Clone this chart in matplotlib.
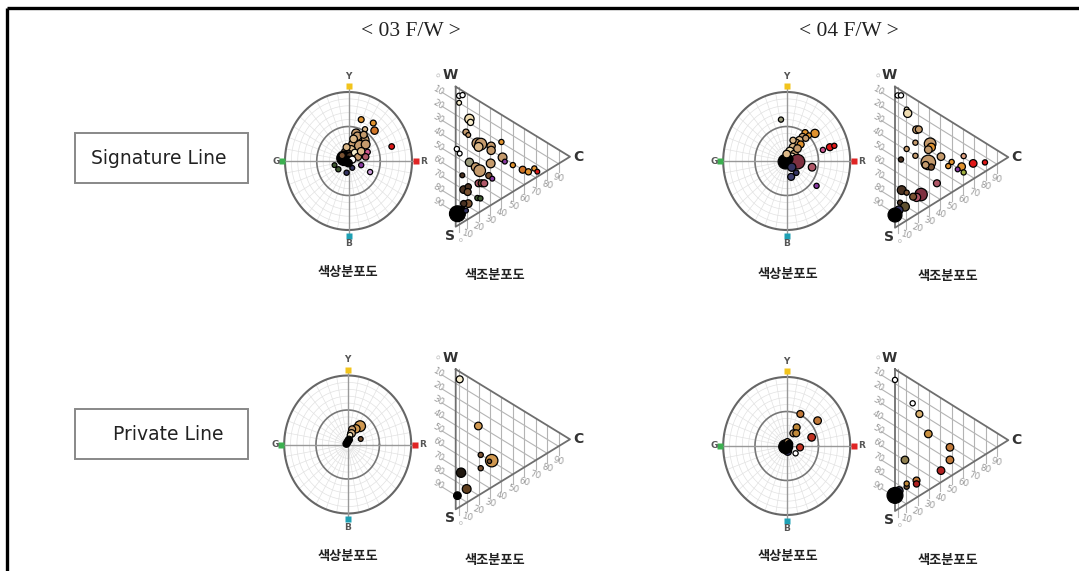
import numpy as np
import matplotlib
matplotlib.use("Agg")
import matplotlib.pyplot as plt
from matplotlib.patches import Rectangle

# ---------------- data ----------------
titles = ["< 03 F/W >", "< 04 F/W >"]
row_labels = ["Signature Line", "Private Line"]
hue_caption = "색상분포도"
tone_caption = "색조분포도"
hue_axes = ["Y", "G", "R", "B"]
tone_vertices = ["W", "S", "C"]
tone_ticks = [10, 20, 30, 40, 50, 60, 70, 80, 90]

# colour names
wh, lt, cream, ltan, tan = "#ffffff", "#f6eccc", "#eedbb0", "#dcb888", "#c49a6c"
org, dor, brn, dbr, blk = "#e0922e", "#d07426", "#7a5232", "#4a3222", "#000000"
red, mau, pur, nav, grn = "#e01818", "#b05868", "#8a3aa0", "#343462", "#3e5a30"
lav, pink, olv, mar, gtan = "#c898d8", "#d05890", "#9a9a7c", "#7e3040", "#d09850"

# 03 F/W Signature - hue (a, b), size, colour
sig03_hue_a = [20, 39, 41, 26, 12, 22, 13, 8, 18, 27, 4, 0, -5, -7, 3, 10, 15, 20, 30, 27, 68,
               -22, -16, -3, 6, 20, 34, -2, 6, 14, 24, -3, 8, 0, -10]
sig03_hue_b = [60, 55, 44, 46, 40, 30, 30, 24, 22, 24, 16, 10, 13, 4, 6, 12, 6, 14, 13, 6, 21,
               -6, -12, -17, -10, -6, -16, 0, 2, 36, 38, 20, 32, -3, 8]
sig03_hue_s = [18, 18, 28, 14, 40, 90, 50, 50, 60, 40, 40, 30, 30, 110, 40, 25, 25, 30, 16, 22, 16,
               12, 14, 14, 12, 14, 14, 50, 25, 35, 25, 25, 30, 30, 20]
sig03_hue_c = [org, org, dor, ltan, tan, tan, tan, tan, tan, tan, ltan, brn, tan, blk, dbr, lt, tan,
               ltan, pink, mau, red, grn, grn, nav, nav, pur, lav, blk, wh, tan, tan, ltan, ltan, blk, brn]

# 03 F/W Signature - tone (chroma c, blackness s)
sig03_tone_c = [3, 6, 3, 12, 13, 9, 11, 19, 22, 20, 31, 31, 40, 1, 3.5, 41, 43, 50, 58.6, 63.6, 68.8,
                71.4, 12, 17.5, 21, 30.6, 5.8, 29, 32, 20, 22.7, 25, 7, 11, 10.5, 19, 21.6, 11, 7,
                1.5, 5, 9]
sig03_tone_s = [5, 3, 10, 17, 19, 28, 29, 31, 30, 33, 27, 30, 19.5, 44, 46, 30, 32, 31, 30, 29, 24,
                25, 48, 48.7, 49.5, 39.5, 60.4, 49, 49.7, 59, 57.6, 56.5, 70, 66, 70, 70, 69, 78, 80,
                90, 86, 84]
sig03_tone_sz = [14, 14, 12, 45, 20, 20, 12, 60, 70, 40, 35, 35, 14, 14, 12, 40, 12, 14, 25, 20, 14,
                 12, 35, 40, 70, 40, 12, 20, 12, 25, 25, 25, 30, 20, 25, 14, 14, 30, 20,
                 130, 40, 12]
sig03_tone_col = [wh, wh, lt, cream, lt, tan, tan, tan, tan, ltan, tan, tan, org, wh, wh, tan, pur,
                  org, dor, org, org, red, olv, tan, tan, tan, dbr, brn, pur, mau, brn, mau, dbr, dbr,
                  brn, grn, grn, brn, dbr, blk, blk, nav]

# 04 F/W Signature - hue
sig04_hue_a = [-9, 29, 44.5, 35, 25, 20, 15, 10, 5, 12, 22, 17, 8, 68, 75, 57, -2, 17, 8, 40, 15, 7,
               47, 3, 0, 10, 30]
sig04_hue_b = [60, 41, 40, 37, 35, 30, 26, 20, 14, 10, 24, 18, 6, 20, 22, 16, -1, -1, -9, -9, -17,
               -23, -36, 3, 10, 30, 33]
sig04_hue_s = [14, 20, 35, 14, 25, 30, 30, 30, 35, 30, 25, 30, 30, 25, 14, 14, 110, 110, 35, 30, 16,
               25, 14, 40, 30, 20, 20]
sig04_hue_c = [olv, org, org, org, tan, ltan, tan, ltan, cream, tan, org, tan, lt, red, red, pink,
               blk, mar, nav, mau, nav, "#404070", pur, blk, ltan, ltan, tan]

# 04 F/W Signature - tone
sig04_tone_c = [2.4, 5.3, 10.3, 11.2, 19, 21, 18, 31, 32, 29.4, 10.3, 18, 40.6, 5.3, 29.4, 32, 27,
                50, 47, 60.6, 69, 79.4, 58.8, 55.3, 60.6, 37, 5.9, 10.3, 23, 19, 16, 4.5, 8.8, 3.5, 0]
sig04_tone_s = [5, 3.5, 11, 13.3, 21, 19.8, 30.7, 25, 27, 30, 39, 40, 29.3, 49, 39, 41, 42, 28.4,
                32.8, 18.9, 19.9, 14, 27.3, 31, 30.5, 50, 70.4, 70, 65, 69, 70, 80, 80.7, 85.7, 91]
sig04_tone_sz = [14, 14, 12, 35, 30, 25, 14, 70, 35, 30, 14, 14, 30, 14, 110, 20, 25, 14, 14, 14,
                 30, 14, 30, 12, 14, 25, 40, 14, 80, 35, 25, 14, 40, 35, 100]
sig04_tone_col = [wh, wh, lt, cream, tan, tan, tan, tan, org, tan, tan, tan, tan, dbr, tan, brn, tan,
                  org, org, "#e0a080", red, red, org, pur, "#a0b040", mau, dbr, brn, mar, mau, brn,
                  dbr, "#605030", nav, blk]

# 03 F/W Private - hue
pri03_hue_a = [19.5, 13, 7, 6, 3.7, 20.5, 2, 0, -2]
pri03_hue_b = [26.6, 22.7, 22, 16, 13.5, 8, 7, 4, 1]
pri03_hue_s = [60, 35, 25, 30, 16, 12, 25, 25, 25]
pri03_hue_c = [gtan, gtan, tan, ltan, lt, brn, blk, blk, blk]

# 03 F/W Private - tone
pri03_tone_c = [3.5, 19.8, 21.9, 31.5, 29.5, 21.9, 4.7, 9.6, 1.5]
pri03_tone_s = [5.4, 30.6, 50.2, 49.5, 51, 59.7, 71.5, 80.7, 89.5]
pri03_tone_sz = [25, 30, 14, 80, 10, 14, 45, 40, 30]
pri03_tone_col = [lt, gtan, brn, gtan, brn, brn, "#201810", "#604020", blk]

# 04 F/W Private - hue
pri04_hue_a = [21.5, 48.7, 15.7, 10.5, 15, 39.3, 21, 14, 1.6, -1.6, 2, 1, 4]
pri04_hue_b = [46.4, 36.7, 27, 18.4, 18.4, 12.6, -2, -10.6, -8, -1, 5, 7, 3]
pri04_hue_s = [25, 30, 25, 25, 25, 30, 25, 14, 30, 100, 25, 14, 25]
pri04_hue_c = ["#c07838", "#c07838", "#c08838", tan, "#c08838", "#c03020", "#c03020", wh, nav, blk,
               dbr, tan, blk]

# 04 F/W Private - tone
pri04_tone_c = [0, 15.6, 21.5, 29.4, 48.5, 48.5, 8.8, 40.6, 19, 19, 10.3, 10.3, 3.5, 0]
pri04_tone_s = [7.5, 16.2, 20.8, 30.9, 30.8, 39.7, 59.6, 51.2, 69, 71.4, 77.7, 75.5, 84, 89]
pri04_tone_sz = [14, 14, 25, 30, 30, 30, 30, 30, 25, 20, 14, 14, 35, 130]
pri04_tone_col = [wh, wh, "#d8b070", "#c89040", "#c07838", "#c07838", "#908050", "#b02020",
                  "#c07838", "#b02020", "#705030", "#c08838", "#404060", blk]

# ---------------- layout ----------------
W, H = 1079, 571
fig = plt.figure(figsize=(W / 100, H / 100), dpi=100)
fig.patch.set_facecolor("white")
KR = ["Noto Sans CJK KR", "DejaVu Sans"]


def axes_px(x0, y0, x1, y1):
    ax = fig.add_axes([x0 / W, 1 - y1 / H, (x1 - x0) / W, (y1 - y0) / H])
    ax.set_axis_off()
    return ax


# background axes in pixel units
bg = axes_px(0, 0, W, H)
bg.set_xlim(0, W)
bg.set_ylim(H, 0)
bg.plot([6.5, W], [8, 8], color="black", lw=2.4, solid_capstyle="butt")
bg.plot([6.5, 6.5], [8, H], color="black", lw=2.4, solid_capstyle="butt")

for cx, t in zip([411, 849], titles):
    bg.text(cx, 32, t, ha="center", va="center", fontsize=15.5,
            family="Liberation Serif", color="#222")

for (y0, y1, tx), lab in zip([(133, 183, 91), (409, 459, 113)], row_labels):
    bg.add_patch(Rectangle((75, y0), 173, y1 - y0, fill=False, ec="#888888", lw=1.4))
    bg.text(tx, (y0 + y1) / 2, lab, ha="left", va="center", fontsize=13.5,
            family="DejaVu Sans", color="#222")

for x, y in [(348, 272), (348, 556), (788, 274), (788, 556)]:
    bg.text(x, y, hue_caption, ha="center", va="center", fontsize=9.5, family=KR,
            fontweight="bold", color="#222")
for x, y in [(495, 275), (495, 560), (948, 276), (948, 560)]:
    bg.text(x, y, tone_caption, ha="center", va="center", fontsize=9.5, family=KR,
            fontweight="bold", color="#222")


def hue_chart(cx, cy, a, b, s, c, rx=63.5, ry=69):
    hw, hh = 88, 96
    ax = axes_px(cx - hw, cy - hh, cx + hw, cy + hh)
    ax.set_xlim(-hw / rx * 100, hw / rx * 100)
    ax.set_ylim(-hh / ry * 100, hh / ry * 100)
    th = np.linspace(0, 2 * np.pi, 200)
    for r in range(10, 100, 10):
        if r != 50:
            ax.plot(r * np.cos(th), r * np.sin(th), color="#e2e2e2", lw=0.5, zorder=1)
    for ang in np.arange(0, 360, 10):
        t = np.deg2rad(ang)
        ax.plot([8 * np.cos(t), 100 * np.cos(t)], [8 * np.sin(t), 100 * np.sin(t)],
                color="#e2e2e2", lw=0.5, zorder=1)
    ax.plot(50 * np.cos(th), 50 * np.sin(th), color="#777777", lw=1.2, zorder=2)
    ax.plot(100 * np.cos(th), 100 * np.sin(th), color="#666666", lw=1.5, zorder=2)
    ax.plot([-104, 104], [0, 0], color="#999999", lw=1.0, zorder=2)
    ax.plot([0, 0], [-106, 106], color="#999999", lw=1.0, zorder=2)
    sq = dict(marker="s", ms=5, mec="none", zorder=3, ls="none")
    ax.plot([0], [108], color="#f2c41c", **sq)
    ax.plot([-105], [0], color="#3cb050", **sq)
    ax.plot([106], [0], color="#e02424", **sq)
    ax.plot([0], [-108], color="#1ea0b4", **sq)
    lk = dict(ha="center", va="center", fontsize=6.5, fontweight="bold", color="#555555")
    ax.text(0, 123, hue_axes[0], **lk)
    ax.text(-114, 0, hue_axes[1], **lk)
    ax.text(118, 0, hue_axes[2], **lk)
    ax.text(0, -120, hue_axes[3], **lk)
    ax.scatter(a, b, s=s, c=c, edgecolors="black", linewidths=0.9, zorder=5)
    return ax


def tone_chart(wx, wy, sy, cxp, cvals, svals, sz, col):
    w = cxp - wx
    h = sy - wy
    x0, x1 = wx - 25, cxp + 22
    y0, y1 = wy - 20, sy + 20
    ax = axes_px(x0, y0, x1, y1)
    ax.set_xlim((x0 - wx) / w * 100, (x1 - wx) / w * 100)
    ax.set_ylim((sy - y1) / h * 100, (sy - y0) / h * 100)
    gl = dict(color="#b4b4b4", lw=0.8, zorder=1)
    # lines of constant blackness (parallel to W-C)
    for sv in tone_ticks:
        cs = np.array([-12, 100 - sv])
        ax.plot(cs, 100 - sv - 0.5 * cs, **gl)
        ax.text(-15, 100 - sv + 7.5, str(sv), ha="center", va="center", fontsize=6.3,
                color="#9a9a9a", rotation=-30)
    # lines of constant chroma (vertical)
    for cv in tone_ticks:
        ax.plot([cv, cv], [0.5 * cv - 6, 100 - 0.5 * cv], **gl)
        ax.text(cv, 0.5 * cv - 10.5, str(cv), ha="center", va="center", fontsize=6.3,
                color="#9a9a9a", rotation=-15)
    ax.plot([2.5, 2.5], [-4, 100], **gl)
    ax.text(-16, 108, "0", ha="center", va="center", fontsize=4.5, color="#aaa", rotation=-30)
    ax.text(4, -10, "0", ha="center", va="center", fontsize=4.5, color="#aaa")
    # triangle outline
    ax.plot([0, 100, 0, 0], [100, 50, 0, 100], color="#6e6e6e", lw=1.3, zorder=2)
    ax.text(-5, 108, tone_vertices[0], ha="center", va="center", fontsize=10,
            fontweight="bold", color="#333")
    ax.text(-5, -6.5, tone_vertices[1], ha="center", va="center", fontsize=10,
            fontweight="bold", color="#333")
    ax.text(107, 50, tone_vertices[2], ha="center", va="center", fontsize=10,
            fontweight="bold", color="#333")
    cv = np.array(cvals, float)
    yv = 100 - np.array(svals, float) - 0.5 * cv
    ax.scatter(cv, yv, s=sz, c=col, edgecolors="black", linewidths=0.9, zorder=5)
    return ax


hue_chart(348.5, 161, sig03_hue_a, sig03_hue_b, sig03_hue_s, sig03_hue_c)
hue_chart(786.7, 161, sig04_hue_a, sig04_hue_b, sig04_hue_s, sig04_hue_c)
hue_chart(347.7, 444.5, pri03_hue_a, pri03_hue_b, pri03_hue_s, pri03_hue_c)
hue_chart(786.7, 446, pri04_hue_a, pri04_hue_b, pri04_hue_s, pri04_hue_c)

tone_chart(455.7, 86.7, 226.7, 570, sig03_tone_c, sig03_tone_s, sig03_tone_sz, sig03_tone_col)
tone_chart(895, 86.7, 227.7, 1008.3, sig04_tone_c, sig04_tone_s, sig04_tone_sz, sig04_tone_col)
tone_chart(455.7, 369.3, 509.3, 570, pri03_tone_c, pri03_tone_s, pri03_tone_sz, pri03_tone_col)
tone_chart(895, 369.3, 511, 1008.3, pri04_tone_c, pri04_tone_s, pri04_tone_sz, pri04_tone_col)

fig.savefig("out.png", dpi=100, facecolor="white")
